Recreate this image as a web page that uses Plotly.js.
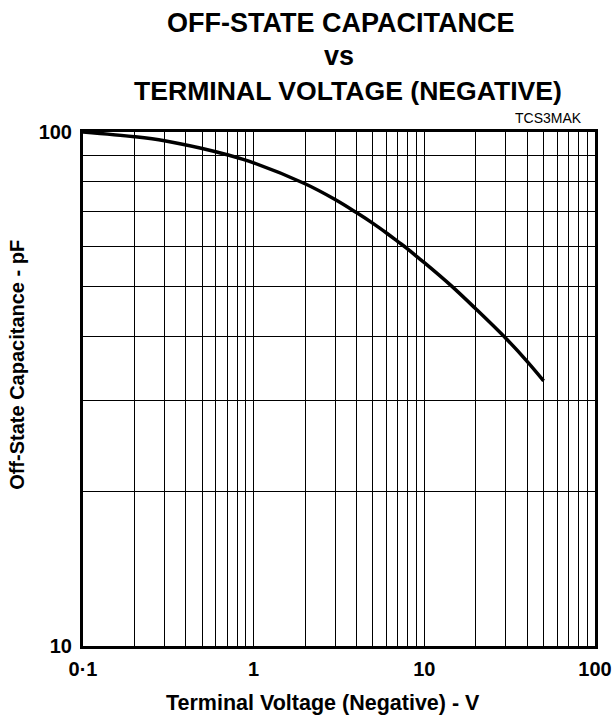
<!DOCTYPE html>
<html>
<head>
<meta charset="utf-8">
<script src="https://cdn.plot.ly/plotly-3.0.1.min.js"></script>
<style>html,body{margin:0;padding:0;background:#fff;}#chart{width:615px;height:718px;}</style>
</head>
<body>
<div id="chart"></div>
<script>
// Data
const voltage = [0.1, 0.2, 0.3, 0.5, 0.7, 1, 2, 3, 4, 5, 6, 7, 8, 9, 10, 14.3, 20, 30, 40, 50];
const capacitance = [100, 97.9, 96.2, 92.9, 90.3, 87.1, 79.3, 73.9, 69.7, 66.4, 63.6, 61.2, 59.2, 57.3, 55.7, 50.3, 45.3, 39.7, 35.8, 32.8];

// Axis grid positions and tick labels
const xTickVals = [0.1,0.2,0.3,0.4,0.5,0.6,0.7,0.8,0.9,1,2,3,4,5,6,7,8,9,10,20,30,40,50,60,70,80,90,100];
const xTickText = xTickVals.map(v => v === 0.1 ? '0\u00b71' : (v === 1 || v === 10 || v === 100) ? String(v) : '');
const yTickVals = [10,20,30,40,50,60,70,80,90,100];
const yTickText = yTickVals.map(v => (v === 10 || v === 100) ? String(v) : '');

const titleLines = ['OFF-STATE CAPACITANCE', 'vs', 'TERMINAL VOLTAGE (NEGATIVE)'];
const xTitle = 'Terminal Voltage (Negative) - V';
const yTitle = 'Off-State Capacitance - pF';
const figId = 'TCS3MAK';

const FONT = 'Liberation Sans, Arial, sans-serif';

const trace = {
  x: voltage, y: capacitance, type: 'scatter', mode: 'lines',
  line: {color: '#000', width: 3.5, shape: 'spline', smoothing: 1},
  hoverinfo: 'skip'
};

function bold(t){ return '<b>' + t + '</b>'; }

const layout = {
  width: 615, height: 718,
  margin: {l: 83, r: 20, t: 132, b: 72, pad: 0},
  paper_bgcolor: '#fff', plot_bgcolor: '#fff',
  showlegend: false,
  font: {family: FONT, color: '#000'},
  xaxis: {
    type: 'log', range: [-1, 2],
    tickmode: 'array', tickvals: xTickVals, ticktext: xTickText,
    ticks: '', ticklabelstandoff: 3,
    tickfont: {family: FONT, size: 20, color: '#000', weight: 'bold'},
    showgrid: true, gridcolor: '#000', gridwidth: 1,
    showline: true, mirror: true, linecolor: '#000', linewidth: 3,
    zeroline: false
  },
  yaxis: {
    type: 'log', range: [1, 2],
    tickmode: 'array', tickvals: yTickVals, ticktext: yTickText,
    ticks: '', ticklabelstandoff: 4,
    tickfont: {family: FONT, size: 20, color: '#000', weight: 'bold'},
    showgrid: true, gridcolor: '#000', gridwidth: 1,
    showline: true, mirror: true, linecolor: '#000', linewidth: 3,
    zeroline: false
  },
  annotations: [
    {text: bold(titleLines[0]), xref: 'paper', yref: 'paper', x: 0.1602, y: 1.2121, xanchor: 'left', yanchor: 'middle',
     showarrow: false, font: {family: FONT, size: 27, color: '#000'}},
    {text: bold(titleLines[1]), xref: 'paper', yref: 'paper', x: 0.5, y: 1.1469, xanchor: 'center', yanchor: 'middle',
     showarrow: false, font: {family: FONT, size: 27, color: '#000'}},
    {text: bold(titleLines[2]), xref: 'paper', yref: 'paper', x: 0.0957, y: 1.0798, xanchor: 'left', yanchor: 'middle',
     showarrow: false, font: {family: FONT, size: 26.6, color: '#000'}},
    {text: figId, xref: 'paper', yref: 'paper', x: 0.979, y: 1.027, xanchor: 'right', yanchor: 'middle',
     showarrow: false, font: {family: FONT, size: 14, color: '#000'}},
    {text: bold(xTitle), xref: 'paper', yref: 'paper', x: 0.469, y: -0.1109, xanchor: 'center', yanchor: 'middle',
     showarrow: false, font: {family: FONT, size: 21.5, color: '#000'}},
    {text: bold(yTitle), xref: 'paper', yref: 'paper', x: -0.1289, y: 0.547, xanchor: 'center', yanchor: 'middle',
     textangle: -90, showarrow: false, font: {family: FONT, size: 20, color: '#000'}}
  ]
};

Plotly.newPlot('chart', [trace], layout, {staticPlot: true, displayModeBar: false});
</script>
</body>
</html>
